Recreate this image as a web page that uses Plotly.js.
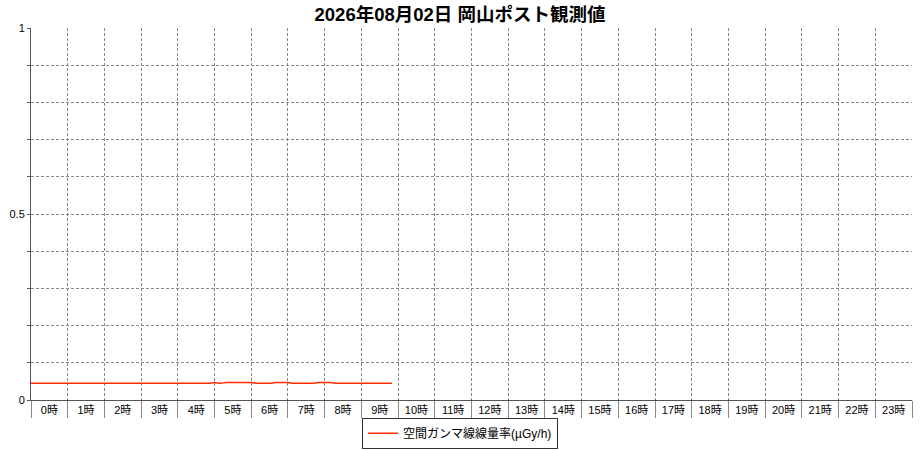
<!DOCTYPE html>
<html>
<head>
<meta charset="utf-8">
<script src="https://cdn.plot.ly/plotly-3.0.1.min.js"></script>
<style>
  html, body { margin: 0; padding: 0; background: #fff; }
  #chart { width: 920px; height: 450px; }
</style>
</head>
<body>
<div id="chart"></div>
<script>
// observation day
const day = "2026-08-02"

// 10-minute readings
const times = [
  "00:00","00:10","00:20","00:30","00:40","00:50",
  "01:00","01:10","01:20","01:30","01:40","01:50",
  "02:00","02:10","02:20","02:30","02:40","02:50",
  "03:00","03:10","03:20","03:30","03:40","03:50",
  "04:00","04:10","04:20","04:30","04:40","04:50",
  "05:00","05:10","05:20","05:30","05:40","05:50",
  "06:00","06:10","06:20","06:30","06:40","06:50",
  "07:00","07:10","07:20","07:30","07:40","07:50",
  "08:00","08:10","08:20","08:30","08:40","08:50",
  "09:00","09:10","09:20","09:30","09:40","09:50"
]
const doseRate = [
  0.045,0.045,0.045,0.045,0.045,0.045,
  0.045,0.045,0.045,0.045,0.045,0.045,
  0.045,0.045,0.045,0.045,0.045,0.045,
  0.045,0.045,0.045,0.045,0.045,0.045,
  0.045,0.045,0.045,0.045,0.045,0.045,
  0.047,0.045,0.047,0.047,0.047,0.047,
  0.047,0.045,0.045,0.045,0.047,0.047,
  0.047,0.045,0.045,0.045,0.045,0.047,
  0.047,0.047,0.045,0.045,0.045,0.045,
  0.045,0.045,0.045,0.045,0.045,0.045
]

// hour labels
const hourLabels = ["0時","1時","2時","3時","4時","5時","6時","7時","8時","9時","10時","11時",
  "12時","13時","14時","15時","16時","17時","18時","19時","20時","21時","22時","23時"]

const pad = n => (n < 10 ? "0" + n : "" + n)
let labelPos = []
let gridPos = []
for (let h = 0; h < 24; h++) {
  labelPos.push(day + " " + pad(h) + ":30")
  gridPos.push(day + " " + pad(h) + ":00")
}
gridPos.push("2026-08-03 00:00")

const font = '"Liberation Sans", Arial, "Noto Sans CJK JP", sans-serif'

let data = [{
  x: times.map(t => day + " " + t),
  y: doseRate,
  type: 'scatter',
  mode: 'lines',
  name: '空間ガンマ線線量率(µGy/h)',
  line: {color: '#ff2a00', width: 1.5, shape: 'spline'}
}]

let layout = {
  width: 920,
  height: 450,
  paper_bgcolor: '#fff',
  plot_bgcolor: '#fff',
  margin: {l: 31, r: 8, t: 28, b: 50},
  font: {family: font, size: 11, color: '#000'},
  title: {
    text: '2026年08月02日 岡山ポスト観測値',
    font: {family: font, size: 18.5, color: '#000', weight: 'bold'},
    x: 0.5, xref: 'container', xanchor: 'center',
    y: 0.967, yref: 'container', yanchor: 'middle'
  },
  xaxis: {
    type: 'date',
    range: [day + " 00:00", "2026-08-03 00:00"],
    tickmode: 'array',
    tickvals: labelPos,
    ticktext: hourLabels,
    tickangle: 0,
    ticks: '',
    showgrid: false,
    zeroline: false,
    showline: true,
    linecolor: '#555',
    linewidth: 1,
    tickfont: {family: font, size: 11},
    minor: {
      tickmode: 'array',
      tickvals: gridPos,
      ticks: 'outside',
      ticklen: 17,
      tickcolor: '#888',
      showgrid: true,
      gridcolor: '#888',
      griddash: '3px,2px',
      gridwidth: 1
    },
    fixedrange: true
  },
  yaxis: {
    range: [0, 1],
    tickmode: 'array',
    tickvals: [0, 0.5, 1],
    ticktext: ['0', '0.5', '1'],
    ticks: 'outside',
    ticklen: 3,
    tickcolor: '#555',
    showgrid: true,
    gridcolor: '#888',
    griddash: '3px,2px',
    zeroline: false,
    showline: true,
    linecolor: '#555',
    linewidth: 1,
    tickfont: {family: font, size: 11},
    minor: {
      tickmode: 'array',
      tickvals: [0.1, 0.2, 0.3, 0.4, 0.6, 0.7, 0.8, 0.9],
      ticks: 'outside',
      ticklen: 3,
      tickcolor: '#555',
      showgrid: true,
      gridcolor: '#888',
      griddash: '3px,2px',
      gridwidth: 1
    },
    fixedrange: true
  },
  showlegend: true,
  legend: {
    orientation: 'h',
    x: 0.487, xanchor: 'center',
    y: 0.003, yref: 'container', yanchor: 'bottom',
    bordercolor: '#333',
    borderwidth: 1,
    font: {family: font, size: 12, color: '#000'},
    itemwidth: 30
  }
}

Plotly.newPlot('chart', data, layout, {staticPlot: true})
</script>
</body>
</html>
